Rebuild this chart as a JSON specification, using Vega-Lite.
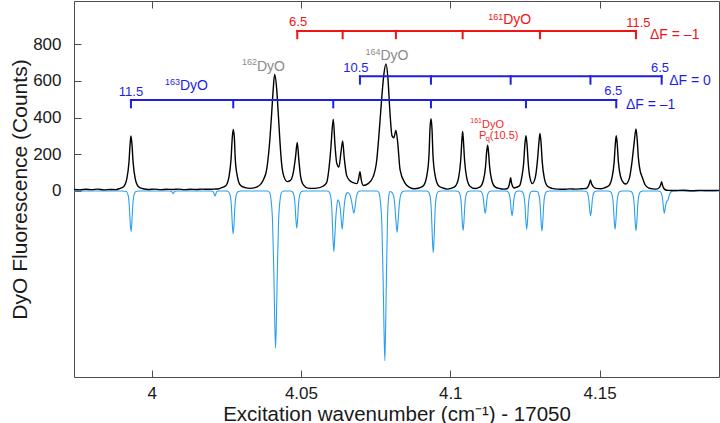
{
  "$schema": "https://vega.github.io/schema/vega-lite/v6.json",
  "width": 645,
  "height": 376,
  "autosize": {"type": "none"},
  "padding": {"left": 74, "top": 1, "right": 1, "bottom": 46},
  "config": {
    "font": "Liberation Sans",
    "view": {"stroke": "#4d4d4d", "strokeWidth": 1},
    "axis": {
      "grid": false,
      "domain": false,
      "tickColor": "#4d4d4d",
      "tickSize": -7,
      "labelColor": "#1a1a1a",
      "labelFontSize": 17,
      "labelFont": "Liberation Sans",
      "titleFont": "Liberation Sans",
      "titleFontSize": 20.5,
      "titleFontWeight": "normal",
      "titleColor": "#1a1a1a"
    }
  },
  "datasets": {
    "exp": [
      {"x": 3.974, "y": 8}, {"x": 3.976, "y": 6}, {"x": 3.978, "y": 9}, {"x": 3.980, "y": 7},
      {"x": 3.982, "y": 10}, {"x": 3.984, "y": 6}, {"x": 3.986, "y": 8}, {"x": 3.988, "y": 7},
      {"x": 3.9891, "y": 12}, {"x": 3.9906, "y": 23}, {"x": 3.9917, "y": 67}, {"x": 3.9924, "y": 155},
      {"x": 3.9928, "y": 257}, {"x": 3.99307, "y": 300}, {"x": 3.9934, "y": 257}, {"x": 3.9938, "y": 155},
      {"x": 3.9945, "y": 67}, {"x": 3.9956, "y": 23}, {"x": 3.9971, "y": 12},
      {"x": 3.999, "y": 8}, {"x": 4.001, "y": 10}, {"x": 4.003, "y": 7}, {"x": 4.005, "y": 9},
      {"x": 4.007, "y": 8}, {"x": 4.009, "y": 10}, {"x": 4.011, "y": 7}, {"x": 4.013, "y": 9},
      {"x": 4.015, "y": 8}, {"x": 4.017, "y": 10}, {"x": 4.019, "y": 9}, {"x": 4.021, "y": 10},
      {"x": 4.0225, "y": 12},
      {"x": 4.0233, "y": 17}, {"x": 4.0248, "y": 28}, {"x": 4.0259, "y": 77}, {"x": 4.0266, "y": 175},
      {"x": 4.027, "y": 290}, {"x": 4.02733, "y": 335}, {"x": 4.0277, "y": 290}, {"x": 4.028, "y": 175},
      {"x": 4.0287, "y": 80}, {"x": 4.0298, "y": 30}, {"x": 4.0313, "y": 18},
      {"x": 4.033, "y": 14}, {"x": 4.0346, "y": 18}, {"x": 4.0355, "y": 24}, {"x": 4.0363, "y": 33},
      {"x": 4.0374, "y": 60}, {"x": 4.0385, "y": 115}, {"x": 4.0394, "y": 242}, {"x": 4.0402, "y": 424},
      {"x": 4.0407, "y": 551}, {"x": 4.0412, "y": 635}, {"x": 4.0419, "y": 551}, {"x": 4.0424, "y": 424},
      {"x": 4.043, "y": 262}, {"x": 4.0435, "y": 153}, {"x": 4.0443, "y": 78}, {"x": 4.0454, "y": 51},
      {"x": 4.0466, "y": 60}, {"x": 4.0474, "y": 97}, {"x": 4.0482, "y": 187}, {"x": 4.04876, "y": 264},
      {"x": 4.0493, "y": 169}, {"x": 4.0499, "y": 78}, {"x": 4.0508, "y": 33}, {"x": 4.0524, "y": 15},
      {"x": 4.054, "y": 14}, {"x": 4.0553, "y": 15}, {"x": 4.0575, "y": 27}, {"x": 4.0586, "y": 45},
      {"x": 4.0595, "y": 140}, {"x": 4.06, "y": 230}, {"x": 4.06082, "y": 391}, {"x": 4.0614, "y": 250},
      {"x": 4.062, "y": 150}, {"x": 4.0627, "y": 130}, {"x": 4.0634, "y": 210}, {"x": 4.06397, "y": 273},
      {"x": 4.0645, "y": 180}, {"x": 4.0653, "y": 85}, {"x": 4.0664, "y": 55}, {"x": 4.0675, "y": 45},
      {"x": 4.0687, "y": 40}, {"x": 4.0693, "y": 65}, {"x": 4.06976, "y": 105}, {"x": 4.0702, "y": 60},
      {"x": 4.0709, "y": 30}, {"x": 4.0725, "y": 40}, {"x": 4.0742, "y": 78}, {"x": 4.0754, "y": 170},
      {"x": 4.0761, "y": 300}, {"x": 4.077, "y": 496}, {"x": 4.0778, "y": 640}, {"x": 4.0785, "y": 693},
      {"x": 4.0791, "y": 620}, {"x": 4.0798, "y": 430}, {"x": 4.0805, "y": 300}, {"x": 4.0811, "y": 290},
      {"x": 4.0818, "y": 330}, {"x": 4.0824, "y": 265}, {"x": 4.0832, "y": 115}, {"x": 4.0848, "y": 44},
      {"x": 4.0865, "y": 18}, {"x": 4.088, "y": 12},
      {"x": 4.0896, "y": 16}, {"x": 4.0911, "y": 30}, {"x": 4.0922, "y": 87}, {"x": 4.0929, "y": 200},
      {"x": 4.0932, "y": 335}, {"x": 4.09354, "y": 394}, {"x": 4.0939, "y": 335}, {"x": 4.0942, "y": 200},
      {"x": 4.0949, "y": 87}, {"x": 4.096, "y": 30}, {"x": 4.0975, "y": 16}, {"x": 4.099, "y": 10},
      {"x": 4.1002, "y": 14}, {"x": 4.1017, "y": 26}, {"x": 4.1028, "y": 73}, {"x": 4.1035, "y": 167},
      {"x": 4.1039, "y": 277}, {"x": 4.10415, "y": 325}, {"x": 4.1044, "y": 277}, {"x": 4.1048, "y": 167},
      {"x": 4.1055, "y": 73}, {"x": 4.1066, "y": 26}, {"x": 4.1083, "y": 13},
      {"x": 4.11, "y": 22}, {"x": 4.1111, "y": 58}, {"x": 4.1118, "y": 130}, {"x": 4.1122, "y": 214},
      {"x": 4.11252, "y": 250}, {"x": 4.1128, "y": 214}, {"x": 4.1132, "y": 130}, {"x": 4.1139, "y": 58},
      {"x": 4.115, "y": 22}, {"x": 4.1165, "y": 13}, {"x": 4.118, "y": 10}, {"x": 4.119, "y": 12},
      {"x": 4.1196, "y": 25}, {"x": 4.1199, "y": 45}, {"x": 4.12023, "y": 72}, {"x": 4.1205, "y": 45},
      {"x": 4.1209, "y": 25}, {"x": 4.1214, "y": 16}, {"x": 4.1222, "y": 20}, {"x": 4.1232, "y": 28},
      {"x": 4.1239, "y": 70}, {"x": 4.1246, "y": 155}, {"x": 4.125, "y": 255}, {"x": 4.12535, "y": 301},
      {"x": 4.1257, "y": 255}, {"x": 4.1261, "y": 155}, {"x": 4.1266, "y": 80}, {"x": 4.1275, "y": 40},
      {"x": 4.1285, "y": 75}, {"x": 4.1292, "y": 165}, {"x": 4.1297, "y": 265}, {"x": 4.13004, "y": 314},
      {"x": 4.1304, "y": 265}, {"x": 4.1308, "y": 160}, {"x": 4.1315, "y": 70}, {"x": 4.1326, "y": 25},
      {"x": 4.1341, "y": 14}, {"x": 4.136, "y": 10}, {"x": 4.138, "y": 9}, {"x": 4.14, "y": 11},
      {"x": 4.142, "y": 10}, {"x": 4.144, "y": 12}, {"x": 4.1455, "y": 13}, {"x": 4.1462, "y": 25},
      {"x": 4.1466, "y": 40}, {"x": 4.14695, "y": 60}, {"x": 4.1473, "y": 40}, {"x": 4.1478, "y": 25},
      {"x": 4.1488, "y": 14}, {"x": 4.1505, "y": 12},
      {"x": 4.1516, "y": 17}, {"x": 4.1531, "y": 28}, {"x": 4.1542, "y": 75}, {"x": 4.1549, "y": 160},
      {"x": 4.1553, "y": 260}, {"x": 4.15559, "y": 301}, {"x": 4.1559, "y": 260}, {"x": 4.1563, "y": 160},
      {"x": 4.157, "y": 80}, {"x": 4.158, "y": 45}, {"x": 4.1588, "y": 38}, {"x": 4.16, "y": 70},
      {"x": 4.1608, "y": 150}, {"x": 4.1615, "y": 250}, {"x": 4.16219, "y": 338}, {"x": 4.1626, "y": 280},
      {"x": 4.163, "y": 180}, {"x": 4.1636, "y": 110}, {"x": 4.1643, "y": 75}, {"x": 4.1652, "y": 35},
      {"x": 4.1665, "y": 15}, {"x": 4.168, "y": 11}, {"x": 4.169, "y": 10}, {"x": 4.17, "y": 18},
      {"x": 4.1705, "y": 35}, {"x": 4.1708, "y": 50}, {"x": 4.1711, "y": 30}, {"x": 4.1716, "y": 12},
      {"x": 4.1722, "y": 5}, {"x": 4.173, "y": 3}, {"x": 4.175, "y": 2}, {"x": 4.178, "y": 4},
      {"x": 4.181, "y": 1}, {"x": 4.184, "y": 3}, {"x": 4.187, "y": 2}, {"x": 4.19, "y": 3}
    ],
    "sim": [
      {"x": 3.974, "y": 0}, {"x": 3.99, "y": 0}, {"x": 3.9915, "y": -3}, {"x": 3.9921, "y": -22},
      {"x": 3.9925, "y": -78}, {"x": 3.9928, "y": -166}, {"x": 3.9931, "y": -222}, {"x": 3.9934, "y": -166},
      {"x": 3.9937, "y": -78}, {"x": 3.9941, "y": -22}, {"x": 3.9947, "y": -3}, {"x": 3.9956, "y": 0},
      {"x": 4.006, "y": 0}, {"x": 4.0067, "y": -3}, {"x": 4.0072, "y": -15}, {"x": 4.0077, "y": -3}, {"x": 4.0084, "y": 0},
      {"x": 4.02, "y": 0}, {"x": 4.0206, "y": -4}, {"x": 4.0212, "y": -27}, {"x": 4.0218, "y": -4}, {"x": 4.0224, "y": 0},
      {"x": 4.025, "y": 0}, {"x": 4.0257, "y": -4}, {"x": 4.0263, "y": -24}, {"x": 4.0267, "y": -82},
      {"x": 4.027, "y": -176}, {"x": 4.0273, "y": -235}, {"x": 4.0276, "y": -176}, {"x": 4.0279, "y": -82},
      {"x": 4.0283, "y": -24}, {"x": 4.0289, "y": -4}, {"x": 4.0298, "y": 0},
      {"x": 4.0388, "y": 0}, {"x": 4.0395, "y": -9}, {"x": 4.04, "y": -51}, {"x": 4.0405, "y": -172},
      {"x": 4.0409, "y": -429}, {"x": 4.0412, "y": -686}, {"x": 4.0415, "y": -858}, {"x": 4.0418, "y": -686},
      {"x": 4.0421, "y": -429}, {"x": 4.0425, "y": -172}, {"x": 4.043, "y": -51}, {"x": 4.0435, "y": -9},
      {"x": 4.0442, "y": 0},
      {"x": 4.0465, "y": 0}, {"x": 4.047, "y": -3}, {"x": 4.0476, "y": -20}, {"x": 4.048, "y": -71},
      {"x": 4.0483, "y": -152}, {"x": 4.0486, "y": -203}, {"x": 4.0489, "y": -152}, {"x": 4.0492, "y": -71},
      {"x": 4.0496, "y": -20}, {"x": 4.0502, "y": -3}, {"x": 4.051, "y": 0},
      {"x": 4.0588, "y": 0}, {"x": 4.0594, "y": -5}, {"x": 4.06, "y": -33}, {"x": 4.0604, "y": -116},
      {"x": 4.0607, "y": -248}, {"x": 4.061, "y": -331}, {"x": 4.0613, "y": -260}, {"x": 4.0617, "y": -140},
      {"x": 4.0621, "y": -70}, {"x": 4.0624, "y": -48}, {"x": 4.0628, "y": -60}, {"x": 4.0632, "y": -100},
      {"x": 4.0635, "y": -160}, {"x": 4.0638, "y": -209}, {"x": 4.0641, "y": -160}, {"x": 4.0645, "y": -80},
      {"x": 4.065, "y": -25}, {"x": 4.0655, "y": -9}, {"x": 4.066, "y": -12}, {"x": 4.0665, "y": -25},
      {"x": 4.067, "y": -60}, {"x": 4.0674, "y": -100}, {"x": 4.0677, "y": -122}, {"x": 4.0681, "y": -90},
      {"x": 4.0686, "y": -30}, {"x": 4.0692, "y": -5}, {"x": 4.0698, "y": 0},
      {"x": 4.0755, "y": 0}, {"x": 4.0761, "y": -9}, {"x": 4.0766, "y": -56}, {"x": 4.0771, "y": -185},
      {"x": 4.0775, "y": -463}, {"x": 4.0778, "y": -741}, {"x": 4.0781, "y": -926}, {"x": 4.0784, "y": -700},
      {"x": 4.0787, "y": -400}, {"x": 4.079, "y": -150}, {"x": 4.0794, "y": -30}, {"x": 4.0798, "y": -3},
      {"x": 4.0803, "y": -6}, {"x": 4.0809, "y": -20}, {"x": 4.0814, "y": -70}, {"x": 4.0818, "y": -160},
      {"x": 4.0822, "y": -225}, {"x": 4.0825, "y": -170}, {"x": 4.0829, "y": -80}, {"x": 4.0834, "y": -22},
      {"x": 4.084, "y": -4}, {"x": 4.0848, "y": 0},
      {"x": 4.092, "y": 0}, {"x": 4.0927, "y": -5}, {"x": 4.0933, "y": -34}, {"x": 4.0937, "y": -118},
      {"x": 4.094, "y": -253}, {"x": 4.0943, "y": -337}, {"x": 4.0946, "y": -253}, {"x": 4.0949, "y": -118},
      {"x": 4.0953, "y": -34}, {"x": 4.0959, "y": -5}, {"x": 4.0968, "y": 0},
      {"x": 4.102, "y": 0}, {"x": 4.1027, "y": -3}, {"x": 4.1033, "y": -22}, {"x": 4.1037, "y": -76},
      {"x": 4.104, "y": -162}, {"x": 4.1043, "y": -216}, {"x": 4.1046, "y": -162}, {"x": 4.1049, "y": -76},
      {"x": 4.1053, "y": -22}, {"x": 4.1059, "y": -3}, {"x": 4.1068, "y": 0},
      {"x": 4.1094, "y": 0}, {"x": 4.1101, "y": -2}, {"x": 4.1107, "y": -12}, {"x": 4.1111, "y": -43},
      {"x": 4.1114, "y": -92}, {"x": 4.1117, "y": -122}, {"x": 4.112, "y": -92}, {"x": 4.1123, "y": -43},
      {"x": 4.1127, "y": -12}, {"x": 4.1133, "y": -2}, {"x": 4.1142, "y": 0},
      {"x": 4.1184, "y": 0}, {"x": 4.1191, "y": -2}, {"x": 4.1197, "y": -14}, {"x": 4.1201, "y": -48},
      {"x": 4.1204, "y": -102}, {"x": 4.1207, "y": -136}, {"x": 4.121, "y": -102}, {"x": 4.1213, "y": -48},
      {"x": 4.1217, "y": -14}, {"x": 4.1223, "y": -2}, {"x": 4.123, "y": 0},
      {"x": 4.1234, "y": 0}, {"x": 4.124, "y": -3}, {"x": 4.1246, "y": -21}, {"x": 4.125, "y": -73},
      {"x": 4.1253, "y": -157}, {"x": 4.1256, "y": -209}, {"x": 4.1259, "y": -157}, {"x": 4.1262, "y": -73},
      {"x": 4.1266, "y": -21}, {"x": 4.1272, "y": -3}, {"x": 4.128, "y": -1},
      {"x": 4.1291, "y": -3}, {"x": 4.1297, "y": -22}, {"x": 4.1301, "y": -76}, {"x": 4.1304, "y": -164},
      {"x": 4.1307, "y": -218}, {"x": 4.131, "y": -164}, {"x": 4.1313, "y": -76}, {"x": 4.1317, "y": -22},
      {"x": 4.1323, "y": -3}, {"x": 4.1332, "y": 0},
      {"x": 4.1447, "y": 0}, {"x": 4.1454, "y": -2}, {"x": 4.146, "y": -13}, {"x": 4.1464, "y": -47},
      {"x": 4.1467, "y": -101}, {"x": 4.147, "y": -135}, {"x": 4.1473, "y": -101}, {"x": 4.1476, "y": -47},
      {"x": 4.148, "y": -13}, {"x": 4.1486, "y": -2}, {"x": 4.1495, "y": 0},
      {"x": 4.1529, "y": 0}, {"x": 4.1536, "y": -3}, {"x": 4.1542, "y": -21}, {"x": 4.1546, "y": -73},
      {"x": 4.1549, "y": -157}, {"x": 4.1552, "y": -209}, {"x": 4.1555, "y": -157}, {"x": 4.1558, "y": -73},
      {"x": 4.1562, "y": -21}, {"x": 4.1568, "y": -3}, {"x": 4.1576, "y": 0},
      {"x": 4.1599, "y": 0}, {"x": 4.1606, "y": -3}, {"x": 4.1612, "y": -22}, {"x": 4.1616, "y": -76},
      {"x": 4.1619, "y": -164}, {"x": 4.1622, "y": -218}, {"x": 4.1625, "y": -164}, {"x": 4.1628, "y": -76},
      {"x": 4.1632, "y": -22}, {"x": 4.1638, "y": -3}, {"x": 4.1646, "y": 0},
      {"x": 4.1694, "y": 0}, {"x": 4.1701, "y": -2}, {"x": 4.1707, "y": -12}, {"x": 4.1711, "y": -43},
      {"x": 4.1714, "y": -92}, {"x": 4.1717, "y": -122}, {"x": 4.172, "y": -92}, {"x": 4.1724, "y": -60},
      {"x": 4.1729, "y": -50}, {"x": 4.1734, "y": -20}, {"x": 4.174, "y": -4}, {"x": 4.1748, "y": 0},
      {"x": 4.19, "y": 0}
    ],
    "progressions": [
      {"set": "161DyO", "x1": 4.04876, "x2": 4.16219, "y": 873},
      {"set": "163DyO", "x1": 4.06976, "x2": 4.1708, "y": 625},
      {"set": "163DyO", "x1": 3.99307, "x2": 4.15559, "y": 496}
    ],
    "lines": [
      {"set": "161DyO", "x": 4.04876, "top": 873, "bottom": 833},
      {"set": "161DyO", "x": 4.06397, "top": 873, "bottom": 833},
      {"set": "161DyO", "x": 4.0818, "top": 873, "bottom": 833},
      {"set": "161DyO", "x": 4.10415, "top": 873, "bottom": 833},
      {"set": "161DyO", "x": 4.13004, "top": 873, "bottom": 833},
      {"set": "161DyO", "x": 4.16219, "top": 873, "bottom": 833},
      {"set": "163DyO", "x": 4.06976, "top": 625, "bottom": 585},
      {"set": "163DyO", "x": 4.09354, "top": 625, "bottom": 585},
      {"set": "163DyO", "x": 4.12023, "top": 625, "bottom": 585},
      {"set": "163DyO", "x": 4.14695, "top": 625, "bottom": 585},
      {"set": "163DyO", "x": 4.1708, "top": 625, "bottom": 585},
      {"set": "163DyO", "x": 3.99307, "top": 496, "bottom": 456},
      {"set": "163DyO", "x": 4.02733, "top": 496, "bottom": 456},
      {"set": "163DyO", "x": 4.06082, "top": 496, "bottom": 456},
      {"set": "163DyO", "x": 4.09354, "top": 496, "bottom": 456},
      {"set": "163DyO", "x": 4.12535, "top": 496, "bottom": 456},
      {"set": "163DyO", "x": 4.15559, "top": 496, "bottom": 456}
    ],
    "jlabels": [
      {"set": "161DyO", "t": "6.5", "x": 4.04906, "y": 923},
      {"set": "161DyO", "t": "11.5", "x": 4.163, "y": 918},
      {"set": "163DyO", "t": "10.5", "x": 4.06842, "y": 669},
      {"set": "163DyO", "t": "6.5", "x": 4.17023, "y": 669},
      {"set": "163DyO", "t": "11.5", "x": 3.99307, "y": 542},
      {"set": "163DyO", "t": "6.5", "x": 4.15459, "y": 547}
    ],
    "dflabels": [
      {"set": "161DyO", "t": "ΔF = –1", "x": 4.16689, "y": 851},
      {"set": "163DyO", "t": "ΔF = 0", "x": 4.17334, "y": 600},
      {"set": "163DyO", "t": "ΔF = –1", "x": 4.15884, "y": 469}
    ],
    "isotopes": [
      {"set": "161DyO", "mass": "161", "x": 4.11775, "y": 935, "ys": 951},
      {"set": "163DyO", "mass": "163", "x": 4.00948, "y": 572, "ys": 595},
      {"set": "other", "mass": "162", "x": 4.03526, "y": 678, "ys": 702},
      {"set": "other", "mass": "164", "x": 4.07662, "y": 736, "ys": 760}
    ],
    "assignment": [
      {"part": "mass", "t": "161", "x": 4.11062, "y": 382},
      {"part": "name", "t": "DyO", "x": 4.11062, "y": 360},
      {"part": "branch", "t": "P", "x": 4.10965, "y": 300},
      {"part": "sub", "t": "q", "x": 4.1118, "y": 284},
      {"part": "branch", "t": "(10.5)", "x": 4.11322, "y": 300}
    ]
  },
  "resolve": {"axis": {"x": "independent"}},
  "layer": [
    {
      "data": {"name": "sim"},
      "mark": {"type": "line", "color": "#2b9fef", "strokeWidth": 1.1, "interpolate": "monotone", "clip": true},
      "encoding": {
        "x": {
          "field": "x", "type": "quantitative",
          "scale": {"domain": [3.974, 4.19], "nice": false, "zero": false},
          "axis": {
            "orient": "bottom",
            "values": [4, 4.05, 4.1, 4.15], "format": "~g", "labelPadding": 15,
            "title": "Excitation wavenumber (cm⁻¹) - 17050", "titlePadding": 3
          }
        },
        "y": {
          "field": "y", "type": "quantitative",
          "scale": {"domain": [-1015, 1036], "nice": false, "zero": false},
          "axis": {
            "orient": "left",
            "values": [0, 200, 400, 600, 800], "labelPadding": 20,
            "title": "DyO Fluorescence (Counts)", "titlePadding": 2, "titleFontSize": 21
          }
        }
      }
    },
    {
      "data": {"name": "exp"},
      "mark": {"type": "line", "color": "#000000", "strokeWidth": 1.4, "interpolate": "monotone", "clip": true},
      "encoding": {
        "x": {
          "field": "x", "type": "quantitative",
          "axis": {"orient": "top", "values": [4, 4.05, 4.1, 4.15], "labels": false, "title": null}
        },
        "y": {"field": "y", "type": "quantitative"}
      }
    },
    {
      "data": {"name": "progressions"},
      "mark": {"type": "rule", "strokeWidth": 2, "strokeCap": "square"},
      "encoding": {
        "x": {"field": "x1", "type": "quantitative", "axis": null},
        "x2": {"field": "x2"},
        "y": {"field": "y", "type": "quantitative"},
        "color": {"field": "set", "type": "nominal", "legend": null,
          "scale": {"domain": ["161DyO", "163DyO", "other"], "range": ["#f01414", "#1e1ee6", "#8a8a8a"]}}
      }
    },
    {
      "data": {"name": "lines"},
      "mark": {"type": "rule", "strokeWidth": 2, "strokeCap": "square"},
      "encoding": {
        "x": {"field": "x", "type": "quantitative", "axis": null},
        "y": {"field": "top", "type": "quantitative"},
        "y2": {"field": "bottom"},
        "color": {"field": "set", "type": "nominal", "legend": null}
      }
    },
    {
      "data": {"name": "jlabels"},
      "mark": {"type": "text", "fontSize": 13, "align": "center", "baseline": "middle"},
      "encoding": {
        "x": {"field": "x", "type": "quantitative", "axis": null},
        "y": {"field": "y", "type": "quantitative"},
        "text": {"field": "t"},
        "color": {"field": "set", "type": "nominal", "legend": null}
      }
    },
    {
      "data": {"name": "dflabels"},
      "mark": {"type": "text", "fontSize": 14, "align": "left", "baseline": "middle"},
      "encoding": {
        "x": {"field": "x", "type": "quantitative", "axis": null},
        "y": {"field": "y", "type": "quantitative"},
        "text": {"field": "t"},
        "color": {"field": "set", "type": "nominal", "legend": null}
      }
    },
    {
      "data": {"name": "isotopes"},
      "mark": {"type": "text", "fontSize": 14, "align": "left", "baseline": "middle"},
      "encoding": {
        "x": {"field": "x", "type": "quantitative", "axis": null},
        "y": {"field": "y", "type": "quantitative"},
        "text": {"value": "DyO"},
        "color": {"field": "set", "type": "nominal", "legend": null}
      }
    },
    {
      "data": {"name": "isotopes"},
      "mark": {"type": "text", "fontSize": 9, "align": "right", "baseline": "middle"},
      "encoding": {
        "x": {"field": "x", "type": "quantitative", "axis": null},
        "y": {"field": "ys", "type": "quantitative"},
        "text": {"field": "mass"},
        "color": {"field": "set", "type": "nominal", "legend": null}
      }
    },
    {
      "data": {"name": "assignment"},
      "transform": [{"filter": "datum.part === 'mass'"}],
      "mark": {"type": "text", "fontSize": 7, "align": "right", "baseline": "middle", "color": "#f02828"},
      "encoding": {
        "x": {"field": "x", "type": "quantitative", "axis": null},
        "y": {"field": "y", "type": "quantitative"},
        "text": {"field": "t"}
      }
    },
    {
      "data": {"name": "assignment"},
      "transform": [{"filter": "datum.part === 'name' || datum.part === 'branch'"}],
      "mark": {"type": "text", "fontSize": 11, "align": "left", "baseline": "middle", "color": "#f02828"},
      "encoding": {
        "x": {"field": "x", "type": "quantitative", "axis": null},
        "y": {"field": "y", "type": "quantitative"},
        "text": {"field": "t"}
      }
    },
    {
      "data": {"name": "assignment"},
      "transform": [{"filter": "datum.part === 'sub'"}],
      "mark": {"type": "text", "fontSize": 8, "align": "left", "baseline": "middle", "color": "#f02828"},
      "encoding": {
        "x": {"field": "x", "type": "quantitative", "axis": null},
        "y": {"field": "y", "type": "quantitative"},
        "text": {"field": "t"}
      }
    }
  ]
}
